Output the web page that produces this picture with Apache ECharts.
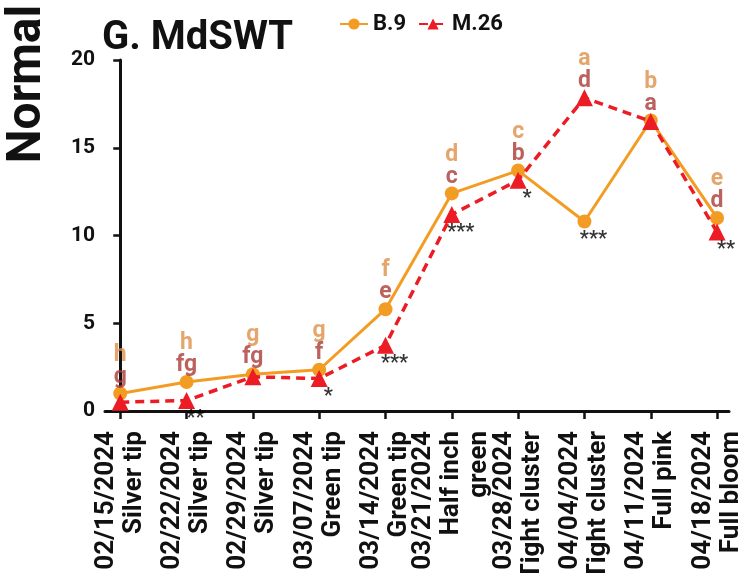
<!DOCTYPE html>
<html><head><meta charset="utf-8">
<script src="https://cdn.jsdelivr.net/npm/echarts@6/dist/echarts.min.js"></script>
<style>html,body{margin:0;padding:0;background:#fff}#c{width:742px;height:573px}</style>
</head><body><div id="c"></div>
<script>
const dates = ['02/15/2024','02/22/2024','02/29/2024','03/07/2024','03/14/2024','03/21/2024','03/28/2024','04/04/2024','04/11/2024','04/18/2024'];
const stages = ['Silver tip','Silver tip','Silver tip','Green tip','Green tip','Half inch\ngreen','Tight cluster','Tight cluster','Full pink','Full bloom'];
const b9 = [1.0, 1.65, 2.1, 2.35, 5.8, 12.4, 13.7, 10.8, 16.55, 11.0];
const m26 = [0.5, 0.6, 1.95, 1.85, 3.75, 11.2, 13.15, 17.85, 16.5, 10.2];
const b9Letters = ['h','h','g','g','f','d','c','a','b','e'];
const m26Letters = ['g','fg','fg','f','e','c','b','d','a','d'];
const stars = ['','**','','*','***','***','*','***','','**'];
const yTicks = [0, 5, 10, 15, 20];
const seriesNames = ['B.9', 'M.26'];

const idx = dates.map((d, i) => i);
const ORANGE = '#F39C24', RED = '#EC1C24', ORANGE_TXT = '#DE9048', RED_TXT = '#AA3A36';
const FONT = 'Roboto';

const chart = echarts.init(document.getElementById('c'), null, {renderer: 'canvas'});
chart.setOption({
  animation: false,
  backgroundColor: '#fff',
  title: {
    text: 'G. MdSWT', left: 97, top: 14,
    textStyle: {fontFamily: FONT, fontWeight: 'bold', fontSize: 40, color: '#111'}
  },
  legend: {
    data: seriesNames, left: 334, top: 8, itemWidth: 28, itemHeight: 14, itemGap: 12,
    textStyle: {fontFamily: FONT, fontWeight: 'bold', fontSize: 22, color: '#111'}
  },
  graphic: [{
    type: 'text', x: 28, y: 84, rotation: Math.PI / 2,
    style: {text: 'Normal', font: 'bold 48px Roboto', fill: '#111', align: 'center', verticalAlign: 'middle'}
  }],
  grid: {left: 105, right: 13, top: 60, bottom: 162, containLabel: false, outerBoundsMode: 'none'},
  xAxis: {
    type: 'value', min: -0.23, max: 9.18,
    splitLine: {show: false},
    axisLine: {show: true, onZero: false, lineStyle: {color: '#111', width: 3}},
    axisTick: {show: true, customValues: idx, length: 8, lineStyle: {color: '#111', width: 2.5}},
    axisLabel: {
      show: true, customValues: idx, rotate: 90, margin: 20,
      fontFamily: FONT, fontWeight: 'bold', fontSize: 26, color: '#111', lineHeight: 28,
      formatter: v => dates[Math.round(v)] + '\n' + stages[Math.round(v)]
    }
  },
  yAxis: {
    type: 'value', min: 0, max: 20, interval: 5,
    splitLine: {show: false},
    axisLine: {show: true, lineStyle: {color: '#111', width: 3}},
    axisTick: {show: true, length: 7, lineStyle: {color: '#111', width: 2.5}},
    axisLabel: {
      margin: 10, fontFamily: FONT, fontWeight: 'bold', fontSize: 21, color: '#111',
      formatter: v => yTicks.includes(v) ? String(v) : ''
    }
  },
  series: [
    {
      name: seriesNames[0], type: 'line', data: idx.map(i => [i, b9[i]]),
      symbol: 'circle', symbolSize: 14, z: 3,
      itemStyle: {color: ORANGE}, lineStyle: {color: ORANGE, width: 3}
    },
    {
      name: seriesNames[1], type: 'line', data: idx.map(i => [i, m26[i]]),
      symbol: 'triangle', symbolSize: 17, z: 4,
      itemStyle: {color: RED}, lineStyle: {color: RED, width: 3.5, type: [9, 6]}
    },
    {
      name: 'letters', type: 'scatter', silent: true, z: 5,
      data: idx.map(i => [i, Math.max(b9[i], m26[i])]),
      symbolSize: 1, itemStyle: {color: 'rgba(0,0,0,0)'},
      label: {
        show: true, position: 'top', distance: 5,
        formatter: p => '{o|' + b9Letters[p.dataIndex] + '}\n{r|' + m26Letters[p.dataIndex] + '}',
        rich: {
          o: {color: ORANGE_TXT, fontFamily: FONT, fontWeight: 'bold', fontSize: 23, lineHeight: 22, align: 'center'},
          r: {color: RED_TXT, fontFamily: FONT, fontWeight: 'bold', fontSize: 23, lineHeight: 22, align: 'center'}
        }
      }
    },
    {
      name: 'stars', type: 'scatter', silent: true, z: 5,
      data: idx.map(i => [i, Math.min(b9[i], m26[i])]),
      symbolSize: 1, itemStyle: {color: 'rgba(0,0,0,0)'},
      label: {
        show: true, position: 'bottom', distance: 8, offset: [9, 0],
        formatter: p => stars[p.dataIndex],
        color: '#000', fontFamily: FONT, fontWeight: 'bold', fontSize: 20
      }
    }
  ]
});
</script></body></html>
